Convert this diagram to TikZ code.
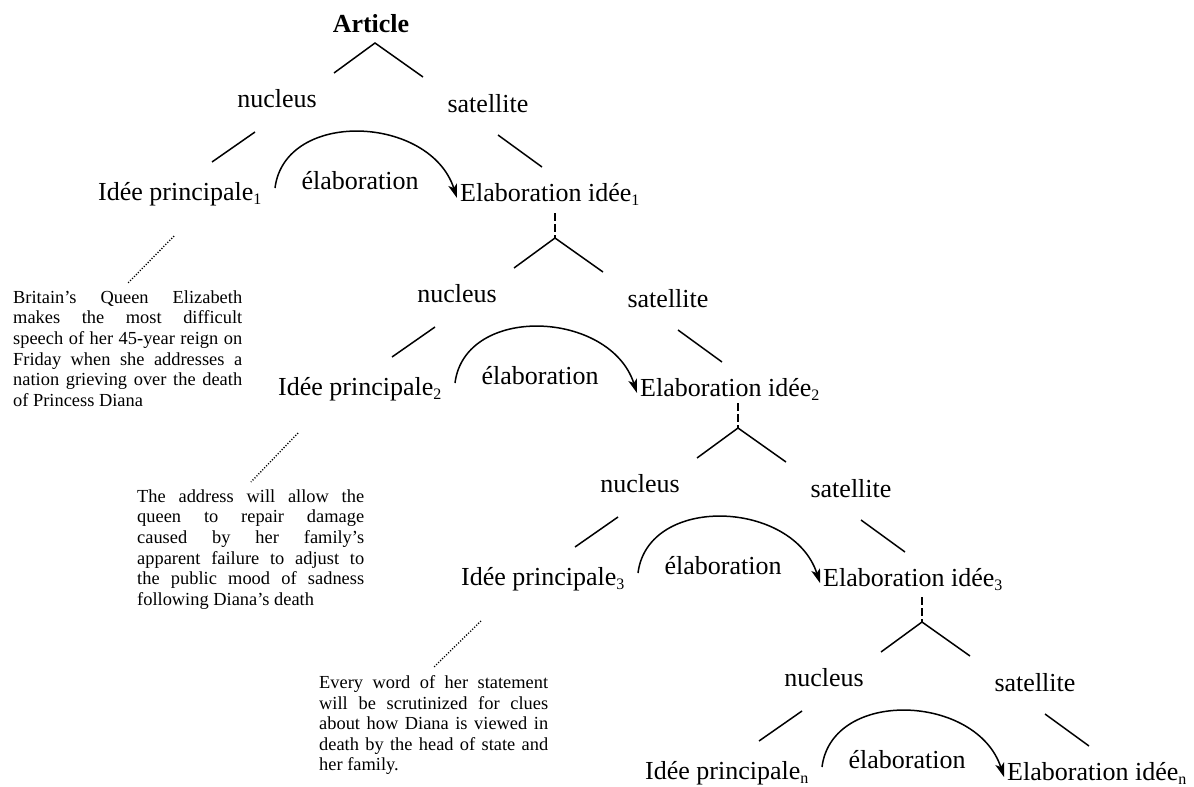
\documentclass[tikz,border=0pt]{standalone}
\usepackage{fontspec}
\setmainfont{Liberation Serif}
\usetikzlibrary{arrows.meta}

% subscript index set in text font, smaller and lowered
\newcommand{\subidx}[1]{\raisebox{-4pt}{\fontsize{16}{16}\selectfont #1}}
% paragraph settings for the justified text segments
\newcommand{\blkpar}{\tolerance=10000 \hyphenpenalty=10000 \exhyphenpenalty=10000 \relax}

\tikzset{
  lbl/.style={inner sep=0pt, font=\fontsize{26}{30}\selectfont},
  tline/.style={line width=1.5pt},
  dline/.style={line width=1.5pt, dash pattern=on 8pt off 3pt},
  relarc/.style={line width=1.5pt, -{Stealth[length=14pt,width=9pt,inset=3.5pt]}},
  dotline/.style={line width=1.4pt, dash pattern=on 1.1pt off 1.7pt},
  blk/.style={inner sep=0pt, anchor=north west, align=justify,
    font=\fontsize{18.4}{20.6}\selectfont},
}

% one nucleus/satellite level of the tree, placed by the apex of its fork
% #1 suffix for names, #2,#3 apex position, #4 index shown as subscript
\newcommand{\rstlevel}[4]{%
  \begin{scope}[shift={(#2,#3)}]
    \coordinate (apex#1) at (0,0);
    \coordinate (dtop#1) at (0,-25);
    \coordinate (capL#1) at (-41,30);
    \coordinate (capR#1) at (48,34);
    \node[lbl, anchor=base] (nuc#1) at (-98,64) {nucleus};
    \node[lbl, anchor=base] (sat#1) at (113,69) {satellite};
    \coordinate (nucA#1) at (-120,89);
    \coordinate (nucB#1) at (-163,119);
    \coordinate (satA#1) at (123,92);
    \coordinate (satB#1) at (167,124);
    \node[lbl, anchor=base west] (ip#1) at (-277,157) {Idée principale\subidx{#4}};
    \node[lbl, anchor=base west] (el#1) at (85,158) {Elaboration idée\subidx{#4}};
    \node[lbl, anchor=base] (rel#1) at (-15,146) {élaboration};
    \coordinate (arcS#1) at (-100,145);
    \coordinate (arcE#1) at (82,155);
    \draw[tline] (capL#1) -- (apex#1) -- (capR#1);
    \draw[tline] (nucA#1) -- (nucB#1);
    \draw[tline] (satA#1) -- (satB#1);
    \draw[relarc] (arcS#1) .. controls (-90,66) and (55,72) .. (arcE#1);
  \end{scope}}

\begin{document}
\begin{tikzpicture}[x=1pt, y=-1pt]
  \useasboundingbox (0,0) rectangle (1194,787);
  \fill[white] (0,0) rectangle (1194,787);

  \node[lbl, anchor=base, font=\fontsize{26}{30}\selectfont\bfseries] (article) at (371,32) {Article};

  \rstlevel{1}{375}{43}{1}
  \rstlevel{2}{555}{238}{2}
  \rstlevel{3}{738}{428}{3}
  \rstlevel{4}{922}{622}{n}

  % satellite of each level continues as the next level
  \draw[dline] (dtop2) -- (apex2);
  \draw[dline] (dtop3) -- (apex3);
  \draw[dline] (dtop4) -- (apex4);

  % text segments attached to the main ideas
  \node[blk, text width=229pt] (blk1) at (13,290.4) {\blkpar
    Britain’s Queen Elizabeth\linebreak
    makes the most difficult\linebreak
    speech of her 45-year reign on\linebreak
    Friday when she addresses a\linebreak
    nation grieving over the death\linebreak
    of Princess Diana};
  \node[blk, text width=227pt] (blk2) at (137,489.4) {\blkpar
    The address will allow the\linebreak
    queen to repair damage\linebreak
    caused by her family’s\linebreak
    apparent failure to adjust to\linebreak
    the public mood of sadness\linebreak
    following Diana’s death};
  \node[blk, text width=229pt] (blk3) at (319,675.4) {\blkpar
    Every word of her statement\linebreak
    will be scrutinized for clues\linebreak
    about how Diana is viewed in\linebreak
    death by the head of state and\linebreak
    her family.};

  \coordinate (dotA1) at (174,236);
  \coordinate (dotB1) at (128,283);
  \coordinate (dotA2) at (298,433);
  \coordinate (dotB2) at (251,482);
  \coordinate (dotA3) at (481,621);
  \coordinate (dotB3) at (433,668);
  \draw[dotline] (dotA1) -- (dotB1);
  \draw[dotline] (dotA2) -- (dotB2);
  \draw[dotline] (dotA3) -- (dotB3);
\end{tikzpicture}
\end{document}
